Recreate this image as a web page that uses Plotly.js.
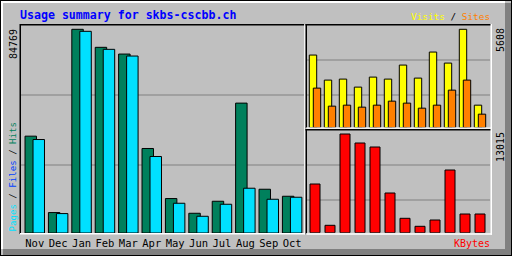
<!DOCTYPE html>
<html>
<head>
<meta charset="utf-8">
<script src="https://cdn.plot.ly/plotly-3.0.1.min.js"></script>
<style>html,body{margin:0;padding:0;background:#c0c0c0;}#chart{width:512px;height:256px;}</style>
</head>
<body>
<div id="chart"></div>
<script>
// ---- data ----
var months = ["Nov","Dec","Jan","Feb","Mar","Apr","May","Jun","Jul","Aug","Sep","Oct"];
var hits   = [40300, 8500, 84769, 77270, 74470, 35170, 14330, 8210, 13210, 54050, 18210, 15290];
var pages  = [38900, 8080, 83930, 76430, 73640, 31840, 12380, 6960, 11960, 18630, 14040, 14880];
var visits = [4137, 2707, 2764, 2306, 2878, 2764, 3565, 2821, 4309, 3679, 5608, 1276];
var sites  = [2249, 1219, 1276, 1162, 1276, 1505, 1391, 1104, 1276, 2134, 2707, 761];
var kbytes = [6422, 976, 13015, 11828, 11301, 5235, 1899, 844, 1675, 8268, 2466, 2466];
var titleText = "Usage summary for skbs-cscbb.ch";

// ---- layout helpers ----
var W = 512, H = 256;
function px(x){ return x / W; }
function py(y){ return 1 - y / H; }
var FONT = "DejaVu Sans Mono, monospace";
var maxHits = Math.max.apply(null, hits);
var maxVisits = Math.max.apply(null, visits);
var maxKB = Math.max.apply(null, kbytes);

var line = {color:"#000", width:1};
var traces = [
  {type:"bar", x:months, y:hits, xaxis:"x", yaxis:"y", width:0.49, offset:-0.416,
   marker:{color:"#00805c", line:line}, hoverinfo:"none"},
  {type:"bar", x:months, y:pages, xaxis:"x", yaxis:"y", width:0.49, offset:-0.074,
   marker:{color:"#00e0ff", line:line}, hoverinfo:"none"},
  {type:"bar", x:months, y:visits, xaxis:"x2", yaxis:"y2", width:0.493, offset:-0.38,
   marker:{color:"#ffff00", line:line}, hoverinfo:"none"},
  {type:"bar", x:months, y:sites, xaxis:"x2", yaxis:"y2", width:0.493, offset:-0.113,
   marker:{color:"#ff8000", line:line}, hoverinfo:"none"},
  {type:"bar", x:months, y:kbytes, xaxis:"x3", yaxis:"y3", width:0.667, offset:-0.333,
   marker:{color:"#ff0000", line:line}, hoverinfo:"none"}
];

function rect(x0,y0,x1,y1,color,layer){
  return {type:"rect", xref:"paper", yref:"paper", x0:px(x0), x1:px(x1), y0:py(y1), y1:py(y0),
          fillcolor:color, line:{width:0}, layer:layer||"above"};
}
var shapes = [
  // gridlines
  rect(21,94.5,304,95.5,"#808080","below"),
  rect(21,164.5,304,165.5,"#808080","below"),
  rect(306,59.5,490,60.5,"#808080","below"),
  rect(306,94.5,490,95.5,"#808080","below"),
  rect(306,164.5,490,165.5,"#808080","below"),
  rect(306,199.5,490,200.5,"#808080","below"),
  // left panel border
  rect(20,24,305,25.5,"#000"),
  rect(19.5,24,21,234,"#000"),
  rect(20,233,306,234.5,"#fff"),
  rect(304.2,24,305.5,234.5,"#fff"),
  // top-right panel
  rect(305.5,24,491,25.5,"#000"),
  rect(305.5,24,307,128.5,"#000"),
  rect(306,127.5,492,128.8,"#fff"),
  rect(490.5,24,492,128.8,"#fff"),
  // bottom-right panel
  rect(305.5,129,491,130.5,"#000"),
  rect(305.5,129,307,234.5,"#000"),
  rect(306,233.3,492,234.8,"#fff"),
  rect(490.5,129,492,234.8,"#fff"),
  // outer frame
  rect(0,0,512,1,"#000"),
  rect(0,0,1,256,"#000"),
  rect(1,1,505,3,"#fff"),
  rect(1,1,3,249,"#fff"),
  rect(505,3,511,255,"#808080"),
  rect(3,249,511,255,"#808080"),
  rect(511,0,512,256,"#000"),
  rect(0,255,512,256,"#000")
];

var annotations = [
  {xref:"paper", yref:"paper", x:px(18), y:py(15), xanchor:"left", yanchor:"middle", showarrow:false,
   text:"<b>"+titleText+"</b>", font:{family:FONT, size:11.6, color:"#0000ff"}},
  {xref:"paper", yref:"paper", x:px(492), y:py(16.5), xanchor:"right", yanchor:"middle", showarrow:false,
   text:'<span style="color:#ffff00">Visits</span> / <span style="color:#ff8000">Sites</span>',
   font:{family:FONT, size:9.4, color:"#000"}},
  {xref:"paper", yref:"paper", x:px(492), y:py(243), xanchor:"right", yanchor:"middle", showarrow:false,
   text:"KBytes", font:{family:FONT, size:10, color:"#ff0000"}},
  {xref:"paper", yref:"paper", x:px(13), y:py(27), xanchor:"center", yanchor:"top", showarrow:false, textangle:-90,
   text:String(maxHits), font:{family:FONT, size:10, color:"#000"}},
  {xref:"paper", yref:"paper", x:px(12.5), y:py(234), xanchor:"center", yanchor:"bottom", showarrow:false, textangle:-90,
   text:'<span style="color:#00e0ff">Pages</span> / <span style="color:#0040ff">Files</span> / <span style="color:#00805c">Hits</span>',
   font:{family:FONT, size:9.1, color:"#000"}},
  {xref:"paper", yref:"paper", x:px(500), y:py(26), xanchor:"center", yanchor:"top", showarrow:false, textangle:-90,
   text:String(maxVisits), font:{family:FONT, size:10, color:"#000"}},
  {xref:"paper", yref:"paper", x:px(500), y:py(130), xanchor:"center", yanchor:"top", showarrow:false, textangle:-90,
   text:String(maxKB), font:{family:FONT, size:10, color:"#000"}}
];

var hidden = {showgrid:false, zeroline:false, showline:false, showticklabels:false, ticks:"", fixedrange:true};
var layout = {
  width:W, height:H, margin:{l:0,r:0,t:0,b:0},
  paper_bgcolor:"#c0c0c0", plot_bgcolor:"rgba(0,0,0,0)",
  showlegend:false, barmode:"overlay", bargap:0,
  xaxis:{domain:[px(21),px(304)], type:"category", categoryorder:"array", categoryarray:months,
         range:[-0.5876, 11.506], showgrid:false, zeroline:false, showline:false, ticks:"",
         ticklabelstandoff:2,
         tickfont:{family:FONT, size:10.5, color:"#000"}, anchor:"y", fixedrange:true},
  yaxis:Object.assign({domain:[py(233), py(25)], range:[0, maxHits*(233-25)/(233-29.3)], anchor:"x"}, hidden),
  xaxis2:Object.assign({domain:[px(306),px(490)], type:"category", categoryorder:"array", categoryarray:months,
         range:[-0.6, 11.667], anchor:"y2"}, hidden),
  yaxis2:Object.assign({domain:[py(127.5), py(25)], range:[0, maxVisits*(127.5-25)/(127.5-29.3)], anchor:"x2"}, hidden),
  xaxis3:Object.assign({domain:[px(306),px(490)], type:"category", categoryorder:"array", categoryarray:months,
         range:[-0.6, 11.667], anchor:"y3"}, hidden),
  yaxis3:Object.assign({domain:[py(232.7), py(130)], range:[0, maxKB*(232.7-130)/(232.7-134)], anchor:"x3"}, hidden),
  shapes:shapes, annotations:annotations
};
Plotly.newPlot("chart", traces, layout, {staticPlot:true, displayModeBar:false});
</script>
</body>
</html>
